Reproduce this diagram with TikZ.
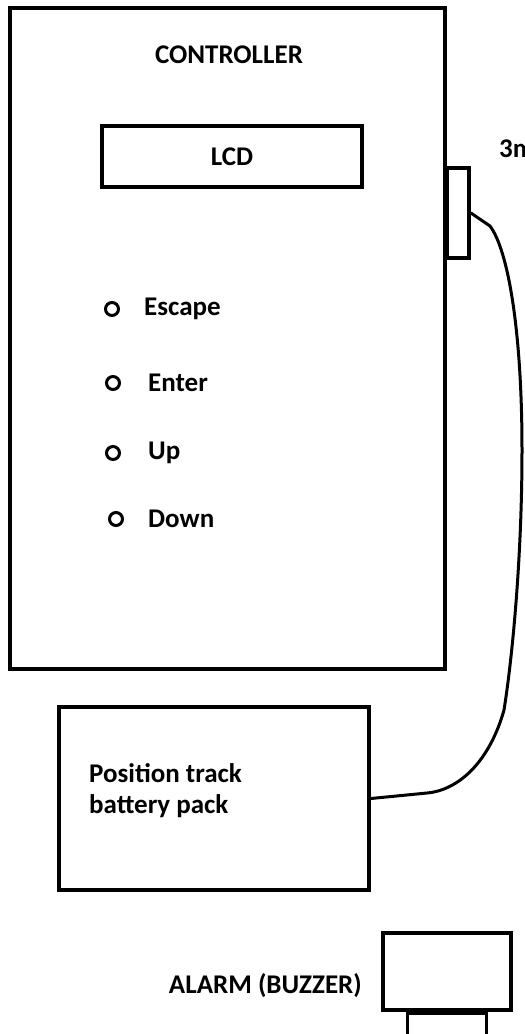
\documentclass[tikz,border=0pt]{standalone}
\usepackage{fontspec}
\setmainfont{Carlito}
\usepackage{tikz}
\usetikzlibrary{positioning}

\begin{document}
\begin{tikzpicture}[
      x=1pt, y=-1pt,
      font=\fontsize{27}{31}\selectfont\bfseries,
      box/.style={draw=black, line width=3.8pt, fill=white, inner sep=0pt},
      btn/.style={circle, draw=black, line width=3pt, minimum size=13pt,
                  inner sep=0pt},
      lbl/.style={inner sep=0pt, anchor=west},
      cable/.style={draw=black, line width=3pt, line cap=round,
                    line join=round},
    ]
    \useasboundingbox (0,0) rectangle (525,1034);

    % ---------- controller ----------
    \node[box, minimum width=435pt, minimum height=661pt] (ctrl) at (227.5,338.5) {};
    \node[inner sep=0pt, anchor=base] (title) at (229,63) {CONTROLLER};
    \node[box, minimum width=260pt, minimum height=61pt] (lcd) at (232,156.5) {LCD};
    \node[box, minimum width=22pt, minimum height=90pt] (conn) at (458,213) {};

    % ---------- buttons ----------
    \node[btn] (esc) at (112,309) {};
    \node[lbl, right=24pt of esc] {Escape};
    \node[btn] (ent) at (113,383) {};
    \node[lbl, right=27pt of ent] {Enter};
    \node[btn] (up) at (113,453) {};
    \node[lbl, right=27pt of up] {Up};
    \node[btn] (dn) at (116,519) {};
    \node[lbl, right=24pt of dn] {Down};

    % ---------- battery pack ----------
    \node[box, minimum width=310pt, minimum height=183pt] (batt) at (214,798.5) {};
    \node[inner sep=0pt, anchor=north west, align=left] at (89,763)
      {Position track\\battery pack};

    % ---------- alarm ----------
    \node[box, minimum width=128pt, minimum height=77pt] (alarm) at (447,971.5) {};
    \node[box, line width=2.6pt, minimum width=79pt, minimum height=23pt,
          anchor=north] (tab) at (alarm.south) {};
    \node[inner sep=0pt, anchor=base east] at (362,993) {ALARM (BUZZER)};

    % ---------- cable ----------
    \draw[cable] (conn.east) -- (490,226)
      .. controls (508,250) and (522,330) .. (522,450)
      .. controls (522,560) and (512,660) .. (504,710)
      .. controls (490,760) and (460,790) .. (427,793) -- (batt.east);
    \node[inner sep=0pt, anchor=base west] at (499,157) {3m};

\end{tikzpicture}
\end{document}
